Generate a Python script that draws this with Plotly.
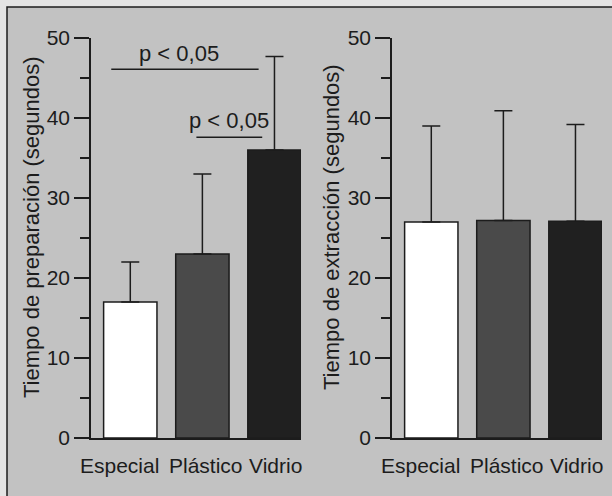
import plotly.graph_objects as go

categories = ["Especial", "Plástico", "Vidrio"]
prep_mean = [17, 23, 36]
prep_sd = [5, 10, 11.7]
extr_mean = [27, 27.2, 27.1]
extr_sd = [12, 13.7, 12.1]
y_ticks = [0, 10, 20, 30, 40, 50]
y_titles = ["Tiempo de preparación (segundos)", "Tiempo de extracción (segundos)"]
sig_label = "p < 0,05"

bar_colors = ["#ffffff", "#4a4a4a", "#202020"]
label_shift = [-11, 4, 1]
title_x_px = [31, 331]
ink = "#1c1c1c"
font_family = "Liberation Sans, Arial, Helvetica, sans-serif"

xpos = list(range(len(categories)))

fig = go.Figure()
for i, (means, sds) in enumerate([(prep_mean, prep_sd), (extr_mean, extr_sd)]):
    sfx = "" if i == 0 else "2"
    fig.add_trace(go.Bar(
        x=xpos, y=means, width=0.74,
        marker=dict(color=bar_colors, line=dict(color=ink, width=1.5)),
        error_y=dict(type="data", symmetric=False, array=sds,
                     arrayminus=[0] * len(sds), color=ink, thickness=1.5, width=9),
        xaxis="x" + sfx, yaxis="y" + sfx, showlegend=False,
    ))
    for xi, cat, sh in zip(xpos, categories, label_shift):
        fig.add_annotation(x=xi, y=(496 - 465) / 496, xref="x" + sfx, yref="paper",
                           text=cat, showarrow=False, xshift=sh, yanchor="middle",
                           font=dict(size=21, color=ink))
    fig.add_annotation(x=title_x_px[i] / 612, y=(496 - 227) / 496, xref="paper",
                       yref="paper", text=y_titles[i], textangle=-90, showarrow=False,
                       xanchor="center", yanchor="middle", font=dict(size=22, color=ink))

yd = [(496 - 438) / 496, (496 - 38) / 496]
axis_common_y = dict(
    range=[0, 50], tickvals=y_ticks, ticks="outside", ticklen=15, tickwidth=1.5,
    tickcolor=ink, showline=True, linecolor=ink, linewidth=1.5, showgrid=False,
    zeroline=False, tickfont=dict(size=21, color=ink, family=font_family),
    minor=dict(dtick=5, ticks="outside", ticklen=9, tickwidth=1.5, tickcolor=ink),
    domain=yd, fixedrange=True, automargin=False,
)
axis_common_x = dict(
    range=[-0.545, 2.368], tickvals=xpos, showticklabels=False, ticks="",
    showline=True, linecolor=ink, linewidth=1.5, showgrid=False, zeroline=False,
    automargin=False, fixedrange=True,
)

fig.update_layout(
    width=612, height=496, margin=dict(l=0, r=0, t=0, b=0, autoexpand=False),
    paper_bgcolor="#e4e4e4", plot_bgcolor="rgba(0,0,0,0)",
    font=dict(family=font_family, color=ink),
    xaxis=dict(axis_common_x, domain=[91 / 612, 301 / 612], anchor="y"),
    yaxis=dict(axis_common_y, anchor="x"),
    xaxis2=dict(axis_common_x, domain=[392 / 612, 602 / 612], anchor="y2"),
    yaxis2=dict(axis_common_y, anchor="x2"),
)

# background panel with frame
fig.add_shape(type="rect", xref="paper", yref="paper",
              x0=7 / 612, x1=1.05, y0=-0.05, y1=1 - 7 / 496,
              fillcolor="#c2c2c2", line=dict(color=ink, width=1.5), layer="below")

# significance brackets
sig_lines = [(-0.264, 1.78, 46.1), (0.917, 1.83, 37.6)]
sig_text = [(0.68, 48.1), (1.37, 39.75)]
for (x0, x1, yv), (tx, ty) in zip(sig_lines, sig_text):
    fig.add_shape(type="line", xref="x", yref="y", x0=x0, x1=x1, y0=yv, y1=yv,
                  line=dict(color=ink, width=1.5))
    fig.add_annotation(x=tx, y=ty, xref="x", yref="y", text=sig_label,
                       showarrow=False, font=dict(size=22, color=ink))

fig.write_html("out.html", config={"displayModeBar": False},
               post_script="document.body.style.margin='0';document.body.style.overflow='hidden';")
